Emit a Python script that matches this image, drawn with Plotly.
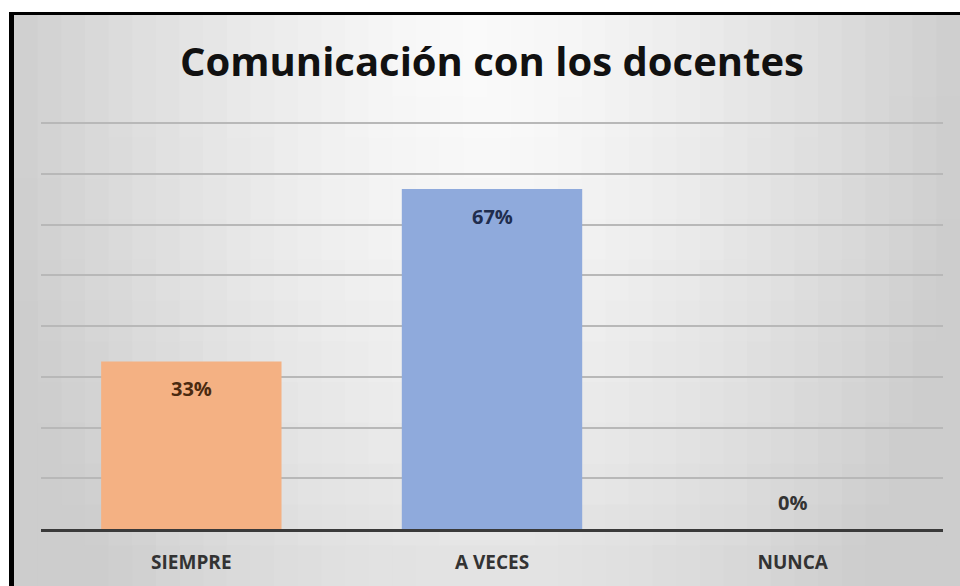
import plotly.graph_objects as go

categories = ["SIEMPRE", "A VECES", "NUNCA"]
values = [33, 67, 0]
bar_colors = ["#F4B183", "#8FAADC", "#A9D18E"]
label_colors = ["#4A2A10", "#1F2D4E", "#333333"]
title_text = "Comunicación con los docentes"

W, H = 960, 586
YMAX = 81
L, R, B = 41, 17, 57
UNIT = (529 - 123) / 80.0
T = int(round(529 - YMAX * UNIT))
PW, PH = W - L - R, H - T - B


def px(x):
    return (x - L) / PW


def py(y):
    return 1 - (y - T) / PH


fig = go.Figure()
fig.add_trace(go.Bar(
    x=categories, y=values,
    marker=dict(color=bar_colors, line=dict(width=0)),
    hoverinfo="skip",
))

shapes = []
# background gradient (grid of rects)
nx, ny = 40, 14
x0p, y0p = 14, 15
for i in range(nx):
    for j in range(ny):
        xa = x0p + (W - x0p) * i / nx
        xb = x0p + (W - x0p) * (i + 1) / nx
        ya = y0p + (H - y0p) * j / ny
        yb = y0p + (H - y0p) * (j + 1) / ny
        cx = ((xa + xb) / 2) / W
        cy = 1 - ((ya + yb) / 2) / H
        d = (((cx - 0.5) / 0.5) ** 2 + 0.5 * ((cy - 0.9) / 1.0) ** 2) ** 0.5
        d = min(d, 1.0)
        g = int(round(250 - 45 * d ** 1.4))
        shapes.append(dict(type="rect", xref="paper", yref="paper",
                           x0=px(xa), x1=px(xb) + 0.002, y0=py(yb) - 0.002, y1=py(ya),
                           fillcolor=f"rgb({g},{g},{g})", line=dict(width=0),
                           layer="below"))
# black frame (top and left)
shapes.append(dict(type="line", xref="paper", yref="paper",
                   x0=px(9), x1=px(W), y0=py(13.5), y1=py(13.5),
                   line=dict(color="black", width=3)))
shapes.append(dict(type="line", xref="paper", yref="paper",
                   x0=px(11.5), x1=px(11.5), y0=py(12), y1=py(H),
                   line=dict(color="black", width=5)))

annotations = []
for c, v, col in zip(categories, values, label_colors):
    annotations.append(dict(
        x=c, y=v, xref="x", yref="y", text=f"<b>{v}%</b>", showarrow=False,
        yanchor="middle", yshift=(-27 if v > 0 else 27),
        font=dict(family="Open Sans", size=20, color=col)))

fig.update_layout(
    width=W, height=H,
    margin=dict(l=L, r=R, t=T, b=B, pad=0),
    paper_bgcolor="white", plot_bgcolor="rgba(0,0,0,0)",
    showlegend=False, bargap=0.4,
    title=dict(text=f"<b>{title_text}</b>", x=0.5, xref="paper", xanchor="center",
               y=1 - 62 / H, yref="container", yanchor="middle",
               font=dict(family="Open Sans", size=40, color="#111111")),
    shapes=shapes, annotations=annotations,
    xaxis=dict(showline=True, linecolor="#3a3a3a", linewidth=3,
               showgrid=False, ticks="", ticklabelstandoff=14,
               tickfont=dict(family="Open Sans", size=19, color="#333333"),
               tickprefix="<b>", ticksuffix="</b>"),
    yaxis=dict(range=[0, YMAX], dtick=10, showgrid=True, gridcolor="#b8b8b8",
               gridwidth=2, showticklabels=False, zeroline=False, showline=False),
)

fig.write_html("out.html", config={"displayModeBar": False},
               post_script="document.body.style.margin='0';document.body.style.overflow='hidden';")
